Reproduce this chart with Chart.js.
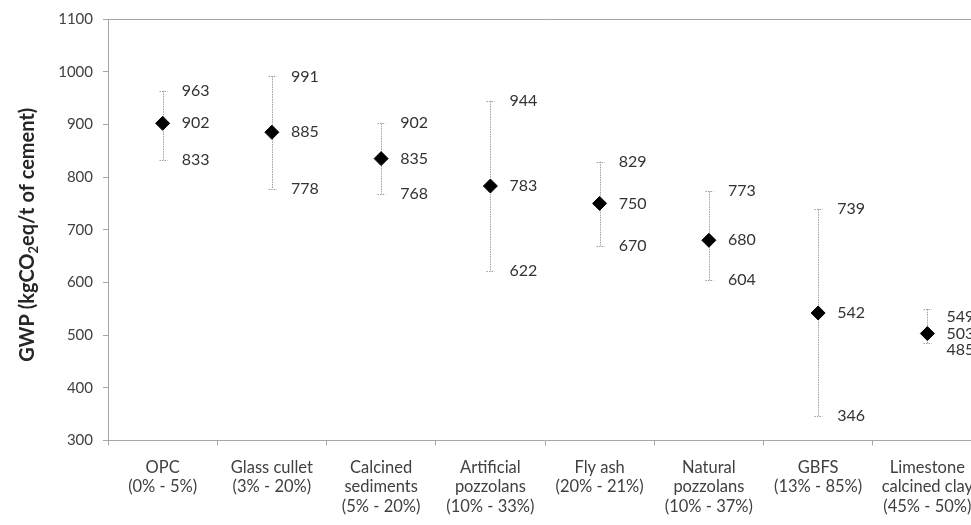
<!DOCTYPE html>
<html>
<head>
<meta charset="utf-8">
<script src="https://cdn.jsdelivr.net/npm/chart.js@4.4.1/dist/chart.umd.min.js"></script>
<style>
  html, body { margin: 0; padding: 0; background: #fff; overflow: hidden; }
  #wrap { position: relative; width: 1000px; height: 525px; }
</style>
</head>
<body>
<div id="wrap"><canvas id="gwp"></canvas></div>
<script>
// Cement types with their substitution ranges
const categories = [
  ["OPC", "(0% - 5%)"],
  ["Glass cullet", "(3% - 20%)"],
  ["Calcined", "sediments", "(5% - 20%)"],
  ["Artificial", "pozzolans", "(10% - 33%)"],
  ["Fly ash", "(20% - 21%)"],
  ["Natural", "pozzolans", "(10% - 37%)"],
  ["GBFS", "(13% - 85%)"],
  ["Limestone", "calcined clay", "(45% - 50%)"]
];
// GWP in kgCO2eq per tonne of cement
const gwpMean = [902, 885, 835, 783, 750, 680, 542, 503];
const gwpMax  = [963, 991, 902, 944, 829, 773, 739, 549];
const gwpMin  = [833, 778, 768, 622, 670, 604, 346, 485];
const yTicks  = [300, 400, 500, 600, 700, 800, 900, 1000, 1100];

const FONT = "Lato, 'Open Sans', sans-serif";
const AXIS_GRAY = "#a6a6a6";
const TEXT = "#404040";

// Dotted min–max range bars with small caps
const rangeBars = {
  id: "rangeBars",
  beforeDatasetsDraw(chart) {
    const { ctx, scales: { x, y } } = chart;
    ctx.save();
    ctx.strokeStyle = "#a0a0a0";
    ctx.lineWidth = 1;
    ctx.setLineDash([1.5, 1]);
    gwpMean.forEach((_, i) => {
      const cx = Math.round(x.getPixelForValue(i)) + 0.5;
      const yt = y.getPixelForValue(gwpMax[i]);
      const yb = y.getPixelForValue(gwpMin[i]);
      ctx.beginPath();
      ctx.moveTo(cx, yt); ctx.lineTo(cx, yb);
      ctx.moveTo(cx - 4, Math.round(yt) + 0.5); ctx.lineTo(cx + 4, Math.round(yt) + 0.5);
      ctx.moveTo(cx - 4, Math.round(yb) + 0.5); ctx.lineTo(cx + 4, Math.round(yb) + 0.5);
      ctx.stroke();
    });
    ctx.restore();
  }
};

// Max / mean / min values written to the right of each marker
const valueLabels = {
  id: "valueLabels",
  afterDatasetsDraw(chart) {
    const { ctx, scales: { x, y } } = chart;
    ctx.save();
    ctx.font = "16px " + FONT;
    ctx.fillStyle = "#333";
    ctx.textAlign = "left";
    ctx.textBaseline = "middle";
    gwpMean.forEach((m, i) => {
      const lx = x.getPixelForValue(i) + 19;
      const ym = y.getPixelForValue(m);
      let yt = y.getPixelForValue(gwpMax[i]);
      let yb = y.getPixelForValue(gwpMin[i]);
      // narrow ranges: stack the three numbers evenly
      if (yb - yt < 50) { yt = ym - 17; yb = ym + 16; }
      ctx.fillText(String(gwpMax[i]), lx, yt);
      ctx.fillText(String(m), lx, ym);
      ctx.fillText(String(gwpMin[i]), lx, yb);
    });
    ctx.restore();
  }
};

// Vertical axis title with a subscript 2
const yTitle = {
  id: "yTitle",
  afterDraw(chart) {
    const { ctx, chartArea } = chart;
    const parts = [
      { t: "GWP (kgCO", sub: false },
      { t: "2", sub: true },
      { t: "eq/t of cement)", sub: false }
    ];
    const big = "bold 20px " + FONT, small = "bold 13px " + FONT;
    ctx.save();
    let total = 0;
    parts.forEach(p => { ctx.font = p.sub ? small : big; p.w = ctx.measureText(p.t).width; total += p.w; });
    ctx.translate(28, (chartArea.top + chartArea.bottom) / 2 + 5);
    ctx.rotate(-Math.PI / 2);
    ctx.fillStyle = "#262626";
    ctx.textBaseline = "middle";
    ctx.textAlign = "left";
    let px = -total / 2;
    parts.forEach(p => {
      ctx.font = p.sub ? small : big;
      ctx.fillText(p.t, px, p.sub ? 6 : 0);
      px += p.w;
    });
    ctx.restore();
  }
};

new Chart(document.getElementById("gwp"), {
  type: "line",
  data: {
    labels: categories,
    datasets: [{
      data: gwpMean,
      showLine: false,
      pointStyle: "rectRot",
      pointRadius: 7,
      pointHoverRadius: 7,
      pointBackgroundColor: "#000",
      pointBorderColor: "#000",
      pointBorderWidth: 1
    }]
  },
  options: {
    responsive: true,
    maintainAspectRatio: false,
    animation: false,
    events: [],
    layout: { padding: { left: 0, right: 18, top: 15, bottom: 0 } },
    plugins: { legend: { display: false }, tooltip: { enabled: false } },
    scales: {
      x: {
        offset: true,
        grid: {
          offset: true,
          drawOnChartArea: false,
          color: AXIS_GRAY,
          tickColor: AXIS_GRAY,
          tickLength: 5
        },
        border: { color: AXIS_GRAY, width: 1 },
        ticks: {
          color: TEXT,
          font: { family: FONT, size: 16.5, lineHeight: "19.5px" },
          padding: 12,
          maxRotation: 0,
          autoSkip: false
        },
        afterFit(s) { s.height = 84.5; }
      },
      y: {
        min: 300,
        max: 1100,
        afterBuildTicks(s) { s.ticks = yTicks.map(v => ({ value: v })); },
        grid: {
          color: c => (c.tick && c.tick.value === 1100 ? AXIS_GRAY : "rgba(0,0,0,0)"),
          tickColor: AXIS_GRAY,
          tickLength: 5
        },
        border: { color: AXIS_GRAY, width: 1 },
        ticks: {
          color: TEXT,
          font: { family: FONT, size: 15 },
          padding: 10,
          callback: v => String(v)
        },
        afterFit(s) { s.width = 108; }
      }
    }
  },
  plugins: [rangeBars, valueLabels, yTitle]
});
</script>
</body>
</html>
